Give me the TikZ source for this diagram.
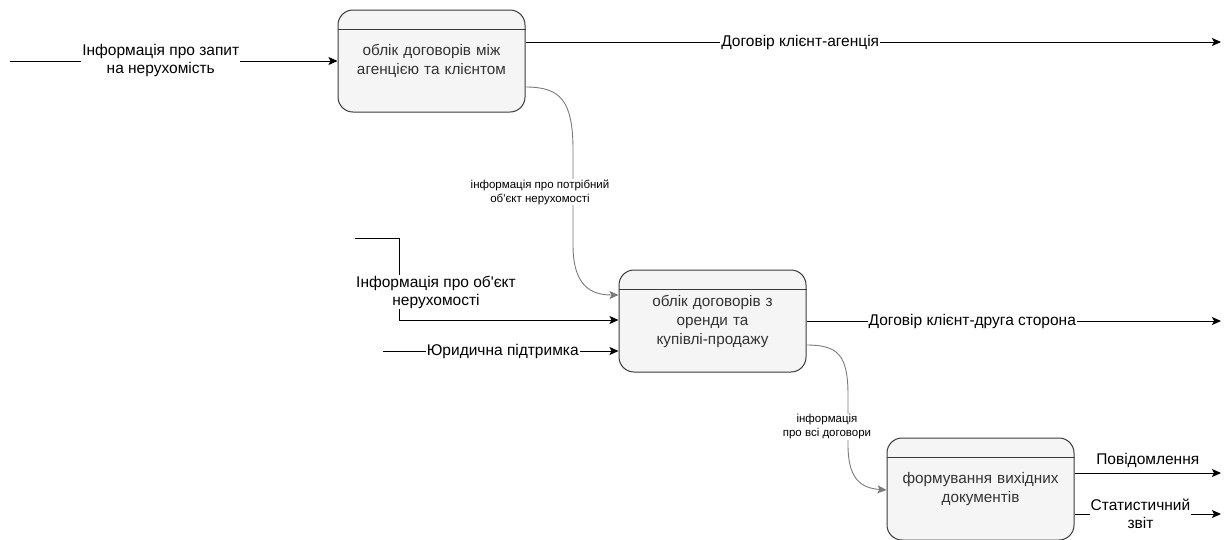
\documentclass[tikz,border=0pt]{standalone}
\usepackage{fontspec}
\setmainfont{Liberation Sans}
\usetikzlibrary{arrows.meta}
\definecolor{boxfill}{HTML}{F5F5F5}
\definecolor{boxline}{HTML}{3A3A3A}
\definecolor{txt}{HTML}{333333}
\definecolor{curve}{HTML}{7A7A7A}
\tikzset{
  procbox/.style={draw=boxline, line width=1pt, fill=boxfill, rounded corners=15pt,
    minimum width=187pt, minimum height=102pt, align=center, text=txt,
    font=\fontsize{15.3}{19}\selectfont, text width=178pt},
  flow/.style={line width=1pt, -{Stealth[length=9pt,width=8pt,inset=2pt]}},
  softflow/.style={line width=0.9pt, draw=curve, -{Stealth[length=9pt,width=8pt,inset=2pt]}},
  lab/.style={fill=white, inner sep=1pt, align=center, text=black,
    font=\fontsize{15.5}{18}\selectfont},
  smalllab/.style={fill=white, inner sep=1pt, align=center, text=black,
    font=\fontsize{11.5}{14}\selectfont},
}
\begin{document}
\begin{tikzpicture}[x=1pt,y=-1pt]
\useasboundingbox (0,0) rectangle (1225,539);

% process boxes
\node[procbox] (b1) at (431.5,61) {облік договорів між\\агенцією та клієнтом};
\node[procbox] (b2) at (712.5,321) {облік договорів з\\оренди та\\купівлі-продажу};
\node[procbox] (b3) at (980.5,489) {формування вихідних\\документів};
\foreach \b in {b1,b2,b3}
  \draw[boxline, line width=1pt] ([yshift=-20pt]\b.north west) -- ([yshift=-20pt]\b.north east);

% free ends of connectors
\coordinate (in1) at (10,61);
\coordinate (out1) at (1221,42);
\coordinate (in2) at (355,238);
\coordinate (in3) at (383,351);
\coordinate (out2) at (1221,321);
\coordinate (out3) at (1221,473);
\coordinate (out4) at (1221,514);

% inputs
\draw[flow] (in1) -- (b1.west |- in1) node[lab, midway, xshift=-13pt, yshift=1pt] {Інформація про запит\\на нерухомість};
\draw[flow] (in2) -- (399,238) -- (399,320) -- ([yshift=1pt]b2.west);
\node[lab] (lbl2) at (436,292) {Інформація про об\textquotesingle єкт\\нерухомості};
\draw[flow] (in3) -- (b2.west |- in3) node[lab, midway, xshift=2pt] {Юридична підтримка};

% outputs
\draw[flow] ([yshift=19pt]b1.east) -- (out1) node[lab, pos=0.395] {Договір клієнт-агенція};
\draw[flow] (b2.east |- out2) -- (out2) node[lab, pos=0.4] {Договір клієнт-друга сторона};
\draw[flow] (b3.east |- out3) -- (out3) node[lab, midway, above=4pt, fill=none] {Повідомлення};
\draw[flow] (b3.east |- out4) -- (out4) node[lab, pos=0.45] {Статистичний\\звіт};

% internal data flows
\draw[softflow] ([yshift=-26pt]b1.east) .. controls (560,87) and (573,100) .. (573,150)
  -- (573,245) .. controls (573,285) and (590,295) .. ([yshift=26pt]b2.west);
\node[smalllab] (lbl7) at (540,192) {інформація про потрібний\\об\textquotesingle єкт нерухомості};
\draw[softflow] ([yshift=-24pt]b2.east) .. controls (838,345) and (848,355) .. (848,395)
  -- (848,445) .. controls (848,478) and (860,488) .. ([yshift=-1pt]b3.west);
\node[smalllab] (lbl8) at (827,427) {інформація\\про всі договори};
\end{tikzpicture}
\end{document}
